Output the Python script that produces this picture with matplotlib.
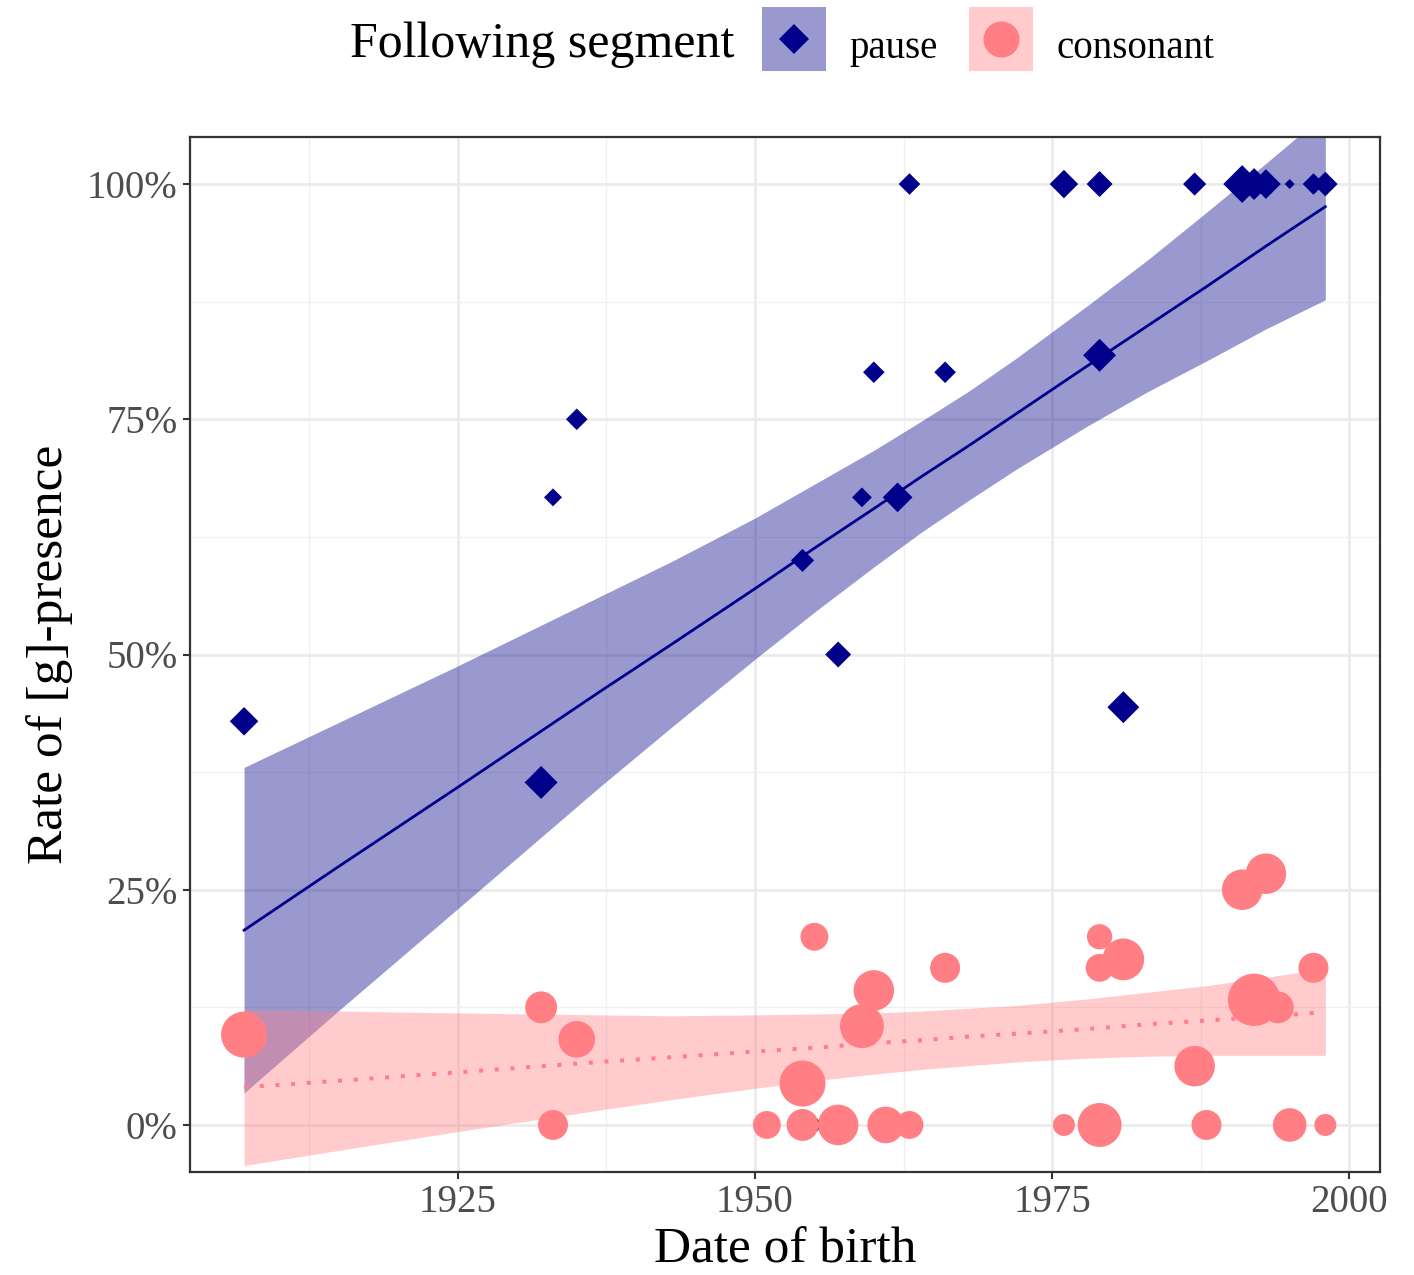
"""Rate of [g]-presence by date of birth, split by following segment."""

import matplotlib
matplotlib.use("Agg")
import matplotlib.pyplot as plt
import numpy as np
from matplotlib.colors import to_rgba
from matplotlib.lines import Line2D
from matplotlib.legend_handler import HandlerTuple
from matplotlib.ticker import FixedLocator, PercentFormatter

# speakers with a following pause
pause_year = [1907, 1932, 1933, 1935, 1954, 1955, 1957, 1959, 1960, 1962, 1963, 1966,
              1976, 1979, 1979, 1981, 1987, 1991, 1992, 1993, 1995, 1997, 1998]
pause_rate = [0.429, 0.364, 0.667, 0.75, 0.60, 0.0, 0.50, 0.667, 0.80, 0.667, 1.0, 0.80,
              1.0, 1.0, 0.818, 0.444, 1.0, 1.0, 1.0, 1.0, 1.0, 1.0, 1.0]
pause_n = [11, 15, 4, 6, 7, 4, 9, 5, 6, 12, 6, 6,
           11, 9, 15, 14, 7, 20, 14, 12, 1, 6, 8]

# speakers with a following consonant
cons_year = [1907, 1932, 1933, 1935, 1951, 1954, 1954, 1955, 1957, 1959, 1960, 1961, 1963, 1966,
             1976, 1979, 1979, 1979, 1981, 1987, 1988, 1991, 1992, 1993, 1994, 1995, 1997, 1998]
cons_rate = [0.096, 0.125, 0.0, 0.091, 0.0, 0.044, 0.0, 0.20, 0.0, 0.105, 0.143, 0.0, 0.0, 0.167,
             0.0, 0.0, 0.20, 0.167, 0.176, 0.0625, 0.0, 0.25, 0.133, 0.267, 0.125, 0.0, 0.167, 0.0]
cons_n = [16, 5, 4, 8, 3, 16, 5, 3, 11, 14, 11, 8, 3, 4,
          1, 14, 2, 3, 12, 11, 4, 11, 23, 11, 5, 6, 4, 1]

# linear smooths with 95% bands
fit_year = [1907, 1915, 1925, 1937, 1943, 1950, 1955, 1960, 1964, 1968,
            1972, 1978, 1983, 1988, 1993, 1998]
pause_fit = [0.207, 0.275, 0.359, 0.461, 0.511, 0.570, 0.613, 0.655, 0.689, 0.722,
             0.756, 0.807, 0.849, 0.891, 0.934, 0.976]
pause_lo = [0.034, 0.122, 0.230, 0.360, 0.423, 0.495, 0.545, 0.593, 0.630, 0.664,
            0.697, 0.743, 0.779, 0.812, 0.846, 0.877]
pause_hi = [0.380, 0.428, 0.488, 0.562, 0.599, 0.645, 0.681, 0.717, 0.748, 0.780,
            0.815, 0.871, 0.919, 0.970, 1.022, 1.075]
cons_fit = [0.040, 0.047, 0.056, 0.067, 0.072, 0.078, 0.082, 0.087, 0.090, 0.094,
            0.097, 0.102, 0.107, 0.111, 0.115, 0.120]
cons_lo = [-0.043, -0.027, -0.007, 0.016, 0.027, 0.039, 0.047, 0.054, 0.059, 0.063,
           0.067, 0.071, 0.073, 0.074, 0.074, 0.074]
cons_hi = [0.123, 0.121, 0.119, 0.117, 0.116, 0.117, 0.118, 0.119, 0.121, 0.124,
           0.127, 0.134, 0.141, 0.148, 0.157, 0.166]

x_ticks = [1925, 1950, 1975, 2000]
y_ticks = [0, 0.25, 0.5, 0.75, 1.0]

PAUSE = "#00008B"
CONS = "#FF7F84"
DPI = 100

plt.rcParams["font.family"] = ["Liberation Serif", "DejaVu Serif"]

fig = plt.figure(figsize=(14.14, 12.75), dpi=DPI)
ax = fig.add_axes([190 / 1414, 1 - 1172 / 1275, 1190 / 1414, 1035 / 1275])

px2pt = 72 / DPI


def circle_s(n):
    r = 7 + 4 * np.sqrt(np.asarray(n, float))
    return (2 * r * px2pt) ** 2


def diamond_s(n):
    h = 1 + 4 * np.sqrt(np.asarray(n, float))
    return (h * px2pt / 0.7071) ** 2


ax.fill_between(fit_year, pause_lo, pause_hi, color=PAUSE, alpha=0.4, lw=0, zorder=2)
ax.fill_between(fit_year, cons_lo, cons_hi, color=CONS, alpha=0.4, lw=0, zorder=2.1)
ax.plot(fit_year, pause_fit, color=PAUSE, lw=2.0, zorder=3)
ax.plot(fit_year, cons_fit, color=CONS, lw=2.9, dashes=(1, 2.9), dash_capstyle="butt", zorder=3)

ax.scatter(pause_year, pause_rate, s=diamond_s(pause_n), marker="D", color=PAUSE,
           linewidths=0, zorder=4)
ax.scatter(cons_year, cons_rate, s=circle_s(cons_n), marker="o", color=CONS,
           linewidths=0, zorder=5)

ax.set_xlim(1902.45, 2002.6)
ax.set_ylim(-0.05, 1.05)
ax.xaxis.set_major_locator(FixedLocator(x_ticks))
ax.xaxis.set_minor_locator(FixedLocator([1912.5, 1937.5, 1962.5, 1987.5]))
ax.yaxis.set_major_locator(FixedLocator(y_ticks))
ax.yaxis.set_minor_locator(FixedLocator([0.125, 0.375, 0.625, 0.875]))
ax.yaxis.set_major_formatter(PercentFormatter(1.0, decimals=0))

ax.grid(which="major", color="#EBEBEB", lw=2.0, zorder=0)
ax.grid(which="minor", color="#F0F0F0", lw=1.0, zorder=0)
ax.set_axisbelow(True)
ax.tick_params(which="major", length=5, width=1.5, color="#333333",
               labelsize=28, labelcolor="#4D4D4D", pad=4)
ax.tick_params(which="minor", length=0)
for sp in ax.spines.values():
    sp.set_color("#333333")
    sp.set_linewidth(1.6)

ax.set_xlabel("Date of birth", fontsize=37, labelpad=4)
ax.set_ylabel("Rate of [g]-presence", fontsize=37, labelpad=10)

# legend across the top: square key filled like the band, point marker on top
handles = [
    (Line2D([], [], ls="", marker="s", ms=46, mew=0, color=to_rgba(PAUSE, 0.4)),
     Line2D([], [], ls="", marker="D", ms=15.5, color=PAUSE, mew=0)),
    (Line2D([], [], ls="", marker="s", ms=46, mew=0, color=to_rgba(CONS, 0.4)),
     Line2D([], [], ls="", marker="o", ms=26, color=CONS, mew=0)),
]
fig.legend(handles, ["pause", "consonant"],
           handler_map={tuple: HandlerTuple(ndivide=1, pad=0)},
           loc="center left", bbox_to_anchor=(762 / 1414, 1 - 45 / 1275), ncol=2,
           frameon=False, fontsize=28, handlelength=1.65, handleheight=1.65,
           handletextpad=0.6, columnspacing=0.8, borderpad=0, borderaxespad=0)
fig.text(350 / 1414, 1 - 45 / 1275, "Following segment", fontsize=36,
         ha="left", va="center")

fig.savefig("out.png", dpi=DPI)
